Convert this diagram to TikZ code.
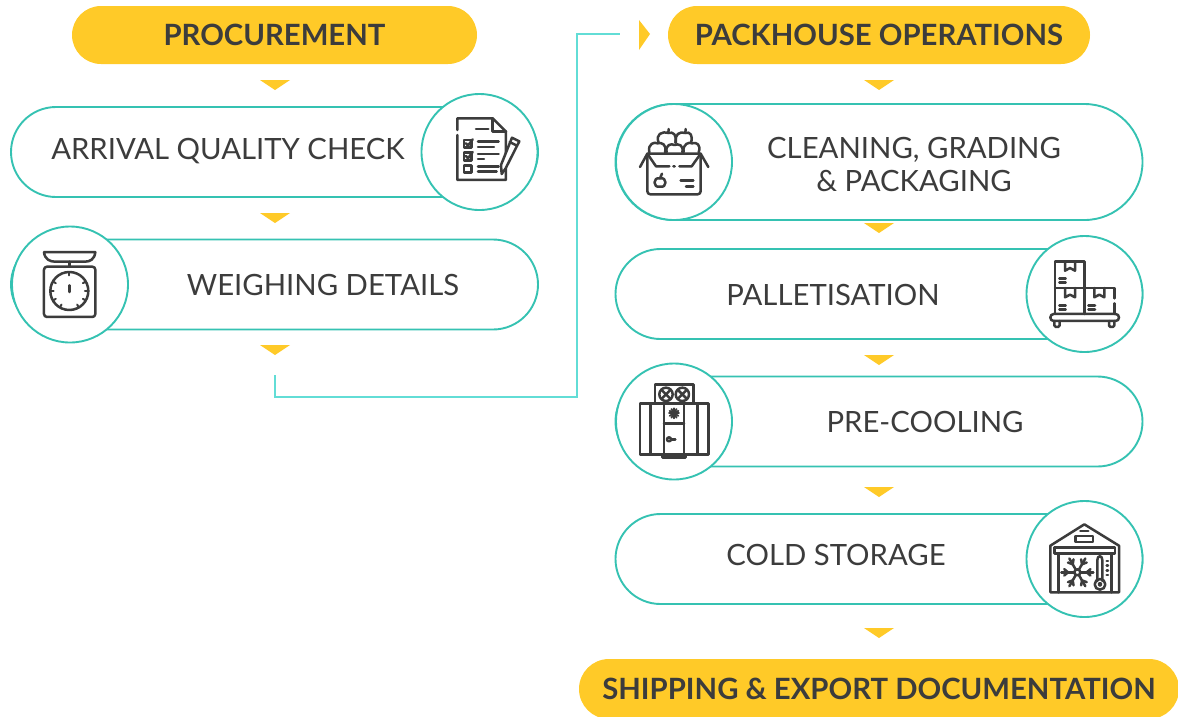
\documentclass[tikz,border=0pt]{standalone}
\usepackage{fontspec}
\setmainfont{Lato}
\usetikzlibrary{shapes.misc}
\definecolor{teal1}{HTML}{35C2B2}
\definecolor{link1}{HTML}{62DDD6}
\definecolor{gold1}{HTML}{FFCA28}
\definecolor{ink}{HTML}{3C3C3C}
\tikzset{
  pill/.style={draw=teal1,line width=1.9pt,fill=white,rounded rectangle,inner sep=0pt,outer sep=0pt},
  head/.style={fill=gold1,rounded rectangle,inner sep=0pt,outer sep=0pt,text=ink,font=\fontsize{29.3}{32}\selectfont\bfseries},
  disc/.style={draw=teal1,line width=1.9pt,fill=white,circle,inner sep=0pt,outer sep=0pt,minimum size=116pt},
  lab/.style={text=ink,font=\fontsize{29.3}{34}\selectfont,align=center,inner sep=0pt},
  chev/.style={fill=gold1},
  link/.style={draw=link1,line width=1.5pt},
  ic/.style={draw=ink,line width=2.5pt,line cap=round,line join=round},
  zoomed/.style={x=0.3333pt,y=-0.3333pt}
}
\newcommand{\downchev}[2]{\fill[chev] (#1-15,#2-5) -- (#1+15,#2-5) -- (#1,#2+5) -- cycle;}
\begin{document}
\begin{tikzpicture}[x=1pt,y=-1pt]
\useasboundingbox (0,0) rectangle (1178,716);
% headers
\node[head,minimum width=405pt,minimum height=58pt] (h1) at (274.5,35) {PROCUREMENT};
\node[head,minimum width=422pt,minimum height=58pt] (h2) at (879,35) {PACKHOUSE OPERATIONS};
\node[head,minimum width=600pt,minimum height=60pt] (h3) at (879,689) {SHIPPING \& EXPORT DOCUMENTATION};
% pills
\node[pill,minimum width=527pt,minimum height=90pt] (p1) at (274.5,152) {};
\node[pill,minimum width=527pt,minimum height=90pt] (p2) at (274.5,284.5) {};
\node[pill,minimum width=527pt,minimum height=116pt] (p3) at (879,162) {};
\node[pill,minimum width=527pt,minimum height=90pt] (p4) at (879,294) {};
\node[pill,minimum width=527pt,minimum height=90pt] (p5) at (879,421.5) {};
\node[pill,minimum width=527pt,minimum height=90pt] (p6) at (879,559) {};
% discs
\node[disc] (d1) at (479.5,152) {};
\node[disc] (d2) at (70,284.5) {};
\node[disc] (d3) at (674,162) {};
\node[disc] (d4) at (1084.5,294) {};
\node[disc] (d5) at (674,421.5) {};
\node[disc] (d6) at (1084.5,559) {};
% labels
\node[lab] (t1) at (228,151.5) {ARRIVAL QUALITY CHECK};
\node[lab] (t2) at (323,285) {WEIGHING DETAILS};
\node[lab,font=\fontsize{29.3}{33}\selectfont] (t3) at (914,164) {CLEANING, GRADING\\\& PACKAGING};
\node[lab] (t4) at (833,295) {PALLETISATION};
\node[lab] (t5) at (925,422) {PRE-COOLING};
\node[lab] (t6) at (836,555) {COLD STORAGE};
% chevrons
\downchev{275}{85}
\downchev{275}{218}
\downchev{275}{350}
\downchev{879}{85}
\downchev{879}{228}
\downchev{879}{360}
\downchev{879}{492}
\downchev{879}{633}
\fill[chev] (639,20) -- (650,34) -- (639,50) -- cycle;
% connector
\coordinate (c1) at (275,375);
\coordinate (c2) at (620,34);
\draw[link] (c1) -- (275,397) -| (577,34) -- (c2);
% icon 1: checklist
\begin{scope}[shift={(400,80)},zoomed]
\draw[ic] (172,150) -- (172,115) -- (278,115) -- (318,155) -- (318,300) -- (172,300) -- (172,165);
\draw[ic] (278,115) -- (278,155) -- (318,155);
\draw[ic] (228,147) -- (265,147);
\draw[ic] (192,180) rectangle (215,203);
\draw[ic] (192,218) rectangle (215,241);
\draw[ic] (192,256) rectangle (215,278);
\draw[ic] (198,190) -- (204,197) -- (218,178);
\draw[ic] (198,228) -- (204,235) -- (218,216);
\draw[ic] (234,185) -- (296,185) (234,201) -- (282,201);
\draw[ic] (234,222) -- (296,222) (234,237) -- (252,237);
\draw[ic] (234,259) -- (296,259) (234,274) -- (290,274);
\draw[ic,fill=white] (336,173) -- (358,184) -- (317,265) -- (305,282) -- (303,255) -- cycle;
\draw[ic] (329,186) -- (351,197);
\end{scope}
% icon 2: scale
\begin{scope}[shift={(0,220)},zoomed]
\draw[ic] (132,96) -- (286,96) (132,96) .. controls (134,118) and (150,125) .. (165,125) -- (255,125) .. controls (270,125) and (284,118) .. (286,96);
\draw[ic] (208,125) -- (208,140);
\draw[ic,rounded corners=3pt] (132,140) rectangle (286,291);
\draw[ic] (208,213) circle (57);
\draw[ic] (208,196) -- (208,216);
\foreach \a in {0,30,60,120,150,180,210,330}{\draw[ic,line width=2pt] (208,213)++(\a:47) -- ++(\a:10);}
\draw[ic,line width=2pt] (208,156) -- (208,166);
\end{scope}
% icon 3: crate with apples
\begin{scope}[shift={(610,95)},zoomed]
\draw[ic,rounded corners=3pt] (112,180) -- (112,298) -- (272,298) -- (272,180);
\draw[ic] (90,216) -- (112,176) -- (272,176) -- (295,216);
\draw[ic] (112,176) -- (138,214) -- (178,214) (190,214) -- (194,214) (208,214) -- (245,214) -- (272,176);
\draw[ic] (118,172) .. controls (112,145) and (135,140) .. (142,145) .. controls (155,140) and (172,150) .. (165,172);
\draw[ic] (170,172) .. controls (165,148) and (185,145) .. (193,150) .. controls (205,145) and (222,150) .. (217,172);
\draw[ic] (221,172) .. controls (216,145) and (240,140) .. (246,145) .. controls (260,140) and (274,150) .. (266,172);
\draw[ic] (146,143) .. controls (136,118) and (155,108) .. (175,114) .. controls (190,108) and (202,122) .. (196,143);
\draw[ic] (198,143) .. controls (192,118) and (210,108) .. (226,114) .. controls (240,108) and (250,122) .. (243,143);
\draw[ic] (175,114) -- (176,102) (226,114) -- (227,102);
\draw[ic] (150,275) .. controls (128,280) and (128,245) .. (150,250) .. controls (172,245) and (172,280) .. (150,275);
\draw[ic] (150,250) -- (156,236);
\draw[ic] (212,257) -- (250,257) (228,275) -- (250,275);
\end{scope}
% icon 4: pallet
\begin{scope}[shift={(1015,230)},zoomed]
\draw[ic] (120,172) -- (120,94) -- (209,94) -- (209,252);
\draw[ic] (120,172) -- (120,252);
\draw[ic] (120,174) -- (298,174) -- (298,205) (298,220) -- (298,252);
\draw[ic] (150,94) -- (150,122) -- (165,114) -- (180,122) -- (180,94);
\draw[ic] (150,174) -- (150,202) -- (165,194) -- (180,202) -- (180,174);
\draw[ic] (238,174) -- (238,202) -- (253,194) -- (268,202) -- (268,174);
\draw[ic] (133,146) -- (152,146) (133,158) -- (152,158);
\draw[ic] (133,226) -- (152,226) (133,238) -- (152,238);
\draw[ic] (220,226) -- (240,226) (220,238) -- (240,238);
\draw[ic,rounded corners=3.4pt] (106,252) rectangle (312,273);
\draw[ic,rounded corners=1.5pt] (118,273) -- (118,291) -- (134,291) -- (134,273);
\draw[ic,rounded corners=1.5pt] (282,273) -- (282,291) -- (298,291) -- (298,273);
\end{scope}
% icon 5: cooler
\begin{scope}[shift={(610,360)},zoomed]
\draw[ic] (135,128) -- (135,74) -- (250,74) -- (250,128);
\draw[ic] (168,103) circle (20);
\draw[ic] (217,103) circle (20);
\draw[ic] (156,91) -- (180,115) (180,91) -- (156,115);
\draw[ic] (205,91) -- (229,115) (229,91) -- (205,115);
\draw[ic] (90,130) rectangle (295,284);
\draw[ic] (122,130) -- (122,284) (262,130) -- (262,284);
\draw[ic] (162,130) -- (162,284) (222,130) -- (222,284);
\draw[ic] (162,190) -- (222,190);
\draw[ic] (157,284) -- (157,293) -- (227,293) -- (227,284);
\foreach \a in {0,30,60,90,120,150}{\draw[ic,line width=1.8pt] (192,160)++(\a:15) -- ++(\a+180:30);}
\draw[ic] (177,238) circle (6);
\draw[ic] (183,238) -- (196,238);
\end{scope}
% icon 6: cold store
\begin{scope}[shift={(1015,495)},zoomed]
\draw[ic] (106,292) -- (106,152) -- (208,88) -- (312,152) -- (312,292) -- cycle;
\draw[ic] (118,158) rectangle (300,176);
\draw[ic] (130,176) -- (130,292) (290,176) -- (290,292);
\draw[ic] (182,123) rectangle (234,141);
\draw[ic] (196,108) -- (220,108);
\draw[ic] (247,258) -- (247,195) .. controls (247,180) and (262,180) .. (262,195) -- (262,258);
\draw[ic] (255,268) circle (16);
\draw[ic] (255,268) circle (4);
\foreach \y in {198,212,226,240}{\draw[ic] (275,\y) -- (279,\y);}
\foreach \a in {0,60,120,180,240,300}{
  \draw[ic] (187,232)++(\a:10) -- ++(\a:38);
  \draw[ic] (187,232)++(\a:28) -- ++(\a+40:15);
  \draw[ic] (187,232)++(\a:28) -- ++(\a-40:15);
}
\draw[ic] (187,232) circle (9);
\end{scope}
\end{tikzpicture}
\end{document}
